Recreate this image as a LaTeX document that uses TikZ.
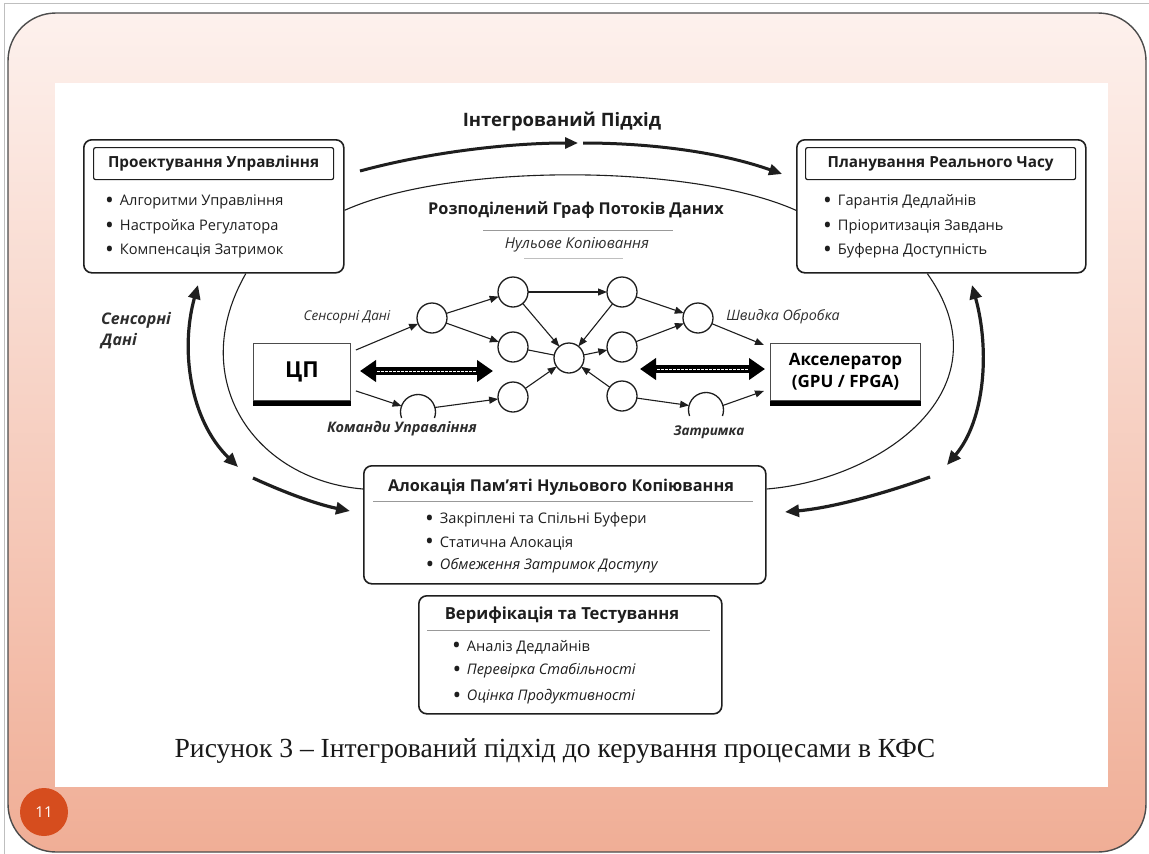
\documentclass[tikz,border=0pt]{standalone}
\usepackage{fontspec}
\usepackage{graphicx}
\setmainfont{Open Sans}
\newfontfamily\capfont{Liberation Serif}
\usetikzlibrary{arrows.meta,calc}

\definecolor{slidetop}{HTML}{FDF1ED}
\definecolor{slidebot}{HTML}{F0AE96}
\definecolor{pagedot}{HTML}{D64D1E}
\definecolor{ink}{HTML}{1E1E1E}
\definecolor{soft}{HTML}{2E2E2E}

\newcommand\dotb{\raisebox{-2.6pt}{\scalebox{1.6}{\textbullet}}\hspace{6pt}}

\begin{document}
\begin{tikzpicture}[x=1pt,y=-1pt,
  panel/.style={draw=ink, line width=1.6pt, rounded corners=8pt, inner sep=0},
  ttlbox/.style={draw=ink, line width=1.2pt, rounded corners=2pt, inner sep=0},
  ttl/.style={font=\fontsize{15.3}{18}\selectfont\bfseries, text=ink},
  item/.style={anchor=west, inner sep=0, font=\fontsize{14.6}{17}\selectfont, text=ink},
  iitem/.style={item, font=\fontsize{14.6}{17}\selectfont\itshape},
  unit/.style={draw=black!70, line width=0.9pt, inner sep=0},
  gn/.style={circle, draw=ink, line width=1.3pt, minimum size=30pt, inner sep=0, outer sep=0},
  arch/.style={circle, draw=none, minimum size=35pt, inner sep=0, outer sep=0},
  flow/.style={draw=ink, line width=1.1pt, -{Triangle[length=9pt,width=7pt]}},
  plain/.style={draw=ink, line width=1.1pt},
  lbl/.style={font=\fontsize{13.5}{16}\selectfont\itshape, text=soft, inner sep=1pt},
  blbl/.style={font=\fontsize{13.5}{16}\selectfont\bfseries\itshape, text=soft, inner sep=1pt},
  thin/.style={draw=ink, line width=1.1pt},
  bigarr/.style={draw=ink, line width=3.2pt, -{Triangle[length=14pt,width=12pt]}},
  bigboth/.style={draw=ink, line width=3.2pt, {Triangle[length=14pt,width=12pt]}-{Triangle[length=14pt,width=12pt]}},
  hollow/.style={draw=black, line width=7.5pt, {Triangle[length=16pt,width=21pt]}-{Triangle[length=16pt,width=21pt]}},
  core/.style={draw=white, line width=0.9pt, dash pattern=on 3pt off 1pt},
  rule/.style={draw=black!40, line width=0.9pt}
]
\useasboundingbox (0,0) rectangle (1149,854);

% slide background
\fill[white] (0,0) rectangle (1149,854);
\draw[black!25, line width=0.8pt] (4,854) -- (4,3) -- (1149,3);
\shade[top color=slidetop, bottom color=slidebot, draw=black!70, line width=1.4pt, rounded corners=48pt]
  (8,13) rectangle (1146,852);
\fill[white] (55,83) rectangle (1108,787);

% page number
\node[circle, fill=pagedot, minimum size=48pt, inner sep=0, text=white,
      font=\fontsize{15}{17}\selectfont] (pg) at (44,812) {11};

% caption
\node[font=\capfont\fontsize{27.6}{32}\selectfont, text=black!90] (cap) at (555,751)
  {Рисунок 3 – Інтегрований підхід до керування процесами в КФС};

% ---------- top boxes ----------
\node[panel, minimum width=260pt, minimum height=133pt, anchor=north west] (pu) at (83,139) {};
\node[ttlbox, minimum width=240pt, minimum height=32pt, anchor=north west] (put) at (93,147) {};
\node[ttl] (putx) at (put.center) {Проектування Управління};
\node[item] (pu1) at (105,202) {\dotb Алгоритми Управління};
\node[item] (pu2) at (105,227) {\dotb Настройка Регулатора};
\node[item] (pu3) at (105,251) {\dotb Компенсація Затримок};

\node[panel, minimum width=289pt, minimum height=133pt, anchor=north west] (rt) at (796,139) {};
\node[ttlbox, minimum width=270pt, minimum height=32pt, anchor=north west] (rtt) at (805,147) {};
\node[ttl] (rttx) at (rtt.center) {Планування Реального Часу};
\node[item] (rt1) at (823,202) {\dotb Гарантія Дедлайнів};
\node[item] (rt2) at (823,227) {\dotb Пріоритизація Завдань};
\node[item] (rt3) at (823,251) {\dotb Буферна Доступність};

% ---------- bottom boxes ----------
\node[panel, minimum width=402pt, minimum height=118pt, anchor=north west] (al) at (363,465) {};
\node[ttl, font=\fontsize{16.3}{19}\selectfont\bfseries] (altx) at (561,487) {Алокація Пам'яті Нульового Копіювання};
\coordinate (alr1) at (373,501);
\coordinate (alr2) at (753,501);
\draw[rule] (alr1) -- (alr2);
\node[item] (al1) at (425,520) {\dotb Закріплені та Спільні Буфери};
\node[item] (al2) at (425,543) {\dotb Статична Алокація};
\node[iitem] (al3) at (425,566) {\dotb Обмеження Затримок Доступу};

\node[panel, minimum width=303pt, minimum height=118pt, anchor=north west] (vt) at (418,595) {};
\node[ttl, font=\fontsize{16.6}{19}\selectfont\bfseries] (vttx) at (562,615) {Верифікація та Тестування};
\coordinate (vtr1) at (427,630);
\coordinate (vtr2) at (710,630);
\draw[rule] (vtr1) -- (vtr2);
\node[item] (vt1) at (452,647) {\dotb Аналіз Дедлайнів};
\node[iitem] (vt2) at (452,671) {\dotb Перевірка Стабільності};
\node[iitem] (vt3) at (452,697) {\dotb Оцінка Продуктивності};

% ---------- headline arrow ----------
\node[font=\fontsize{18.5}{22}\selectfont\bfseries, text=ink] (hd) at (562,121) {Інтегрований Підхід};
\coordinate (ha) at (360,171);
\coordinate (hb) at (578,143);
\coordinate (hc) at (583,143);
\coordinate (hd2) at (782,174);
\draw[draw=ink, line width=3pt, -{Triangle[length=13pt,width=11pt]}] (ha) .. controls (430,152) and (510,143) .. (hb);
\draw[draw=ink, line width=3pt, -{Triangle[length=13pt,width=11pt]}] (hc) .. controls (650,143) and (720,152) .. (hd2);

% ---------- data-flow graph envelope ----------
\draw[thin] ($(pu.east)+(0,4)$) .. controls (450,163) and (690,163) .. ($(rt.west)+(0,4)$);
\node[font=\fontsize{16.3}{19}\selectfont\bfseries, text=ink] (dfg) at (576,210) {Розподілений Граф Потоків Даних};
\coordinate (zr1) at (483,230);
\coordinate (zr2) at (673,230);
\draw[rule] (zr1) -- (zr2);
\node[lbl, font=\fontsize{15}{17}\selectfont\itshape] (zc) at (577,245) {Нульове Копіювання};
\coordinate (zr3) at (524,258);
\coordinate (zr4) at (623,258);
\draw[rule, draw=black!25] (zr3) -- (zr4);

\draw[thin] ($(pu.south)+(32,0)$) .. controls (185,380) and (255,480) .. ($(al.north west)+(0,24)$);
\draw[thin] ($(rt.south)+(-14,0)$) .. controls (1010,390) and (880,480) .. ($(al.north east)+(0,24)$);

% ---------- side feedback arrows ----------
\coordinate (l1) at (198,285);
\coordinate (l2) at (238,467);
\draw[bigboth] (l1) .. controls (180,350) and (190,420) .. (l2);
\coordinate (l3) at (253,478);
\coordinate (l4) at (350,511);
\draw[bigarr] (l3) .. controls (290,495) and (320,505) .. (l4);
\node[font=\fontsize{16}{21}\selectfont\bfseries\itshape, text=soft, anchor=west, align=left, inner sep=0] (sd) at (101,331) {Сенсорні\\Дані};

\coordinate (r1) at (972,285);
\coordinate (r2) at (947,465);
\draw[bigboth] (r1) .. controls (990,350) and (985,420) .. (r2);
\coordinate (r3) at (930,477);
\coordinate (r4) at (785,512);
\draw[bigarr] (r3) .. controls (880,495) and (830,508) .. (r4);

% ---------- processing units ----------
\node[unit, minimum width=97pt, minimum height=57pt, anchor=north west,
      font=\fontsize{22}{25}\selectfont\bfseries] (cpu) at (253,343) {ЦП};
\fill[black] (cpu.south west) rectangle ($(cpu.south east)+(0,5)$);
\node[unit, minimum width=150pt, minimum height=57pt, anchor=north west, align=center,
      font=\fontsize{17}{22}\selectfont\bfseries] (acc) at (770,343) {Акселератор\\(GPU / FPGA)};
\fill[black] (acc.south west) rectangle ($(acc.south east)+(0,5)$);

% hollow bus arrows
\coordinate (b1) at (360,371);
\coordinate (b2) at (493,371);
\draw[hollow] (b1) -- (b2);
\draw[core] ($(b1)+(17,0)$) -- ($(b2)-(17,0)$);
\coordinate (b3) at (640,369);
\coordinate (b4) at (765,369);
\draw[hollow] (b3) -- (b4);
\draw[core] ($(b3)+(17,0)$) -- ($(b4)-(17,0)$);

% ---------- graph nodes ----------
\node[gn] (n1) at (432,318) {};
\node[gn] (n2) at (513,292) {};
\node[gn] (n3) at (513,347) {};
\node[gn] (n4) at (513,397) {};
\node[arch] (n5) at (418,412) {};
\draw[draw=ink, line width=1.3pt] (n5.200) arc[start angle=160, end angle=380, radius=17.5];
\node[gn] (c) at (569,358) {};
\node[gn] (m1) at (622,292) {};
\node[gn] (m2) at (622,347) {};
\node[gn] (m3) at (622,396) {};
\node[gn] (m4) at (698,318) {};
\node[arch] (m5) at (706,410) {};
\draw[draw=ink, line width=1.3pt] (m5.200) arc[start angle=160, end angle=380, radius=17.5];

% ---------- graph edges ----------
\draw[flow] ($(cpu.north east)+(5,7)$) -- (n1);
\draw[flow] ($(cpu.south east)+(5,-10)$) -- (n5.160);
\draw[flow] (n1) -- (n2);
\draw[flow] (n1) -- (n3);
\draw[flow] (n5.15) -- (n4);
\draw[flow] (n2) -- (m1);
\draw[flow] (n2) -- (c);
\draw[plain] (n3) -- (c);
\draw[flow] (n4) -- (c);
\draw[flow] (m1) -- (c);
\draw[flow] (c) -- (m2);
\draw[flow] (m3) -- (c);
\draw[flow] (m1) -- (m4);
\draw[flow] (m2) -- (m4);
\draw[flow] (m4) -- ($(acc.north west)+(-6,2)$);
\draw[flow] (m3) -- (m5.165);
\draw[flow] (m5.15) -- ($(acc.south west)+(-6,-10)$);

% ---------- edge labels ----------
\node[lbl] (ls) at (347,317) {Сенсорні Дані};
\node[lbl, font=\fontsize{14.3}{16}\selectfont\itshape] (lf) at (783,317) {Швидка Обробка};
\node[blbl, font=\fontsize{14.5}{16}\selectfont\bfseries\itshape] (lk) at (402,429) {Команди Управління};
\node[blbl] (lz) at (709,432) {Затримка};

\end{tikzpicture}
\end{document}
